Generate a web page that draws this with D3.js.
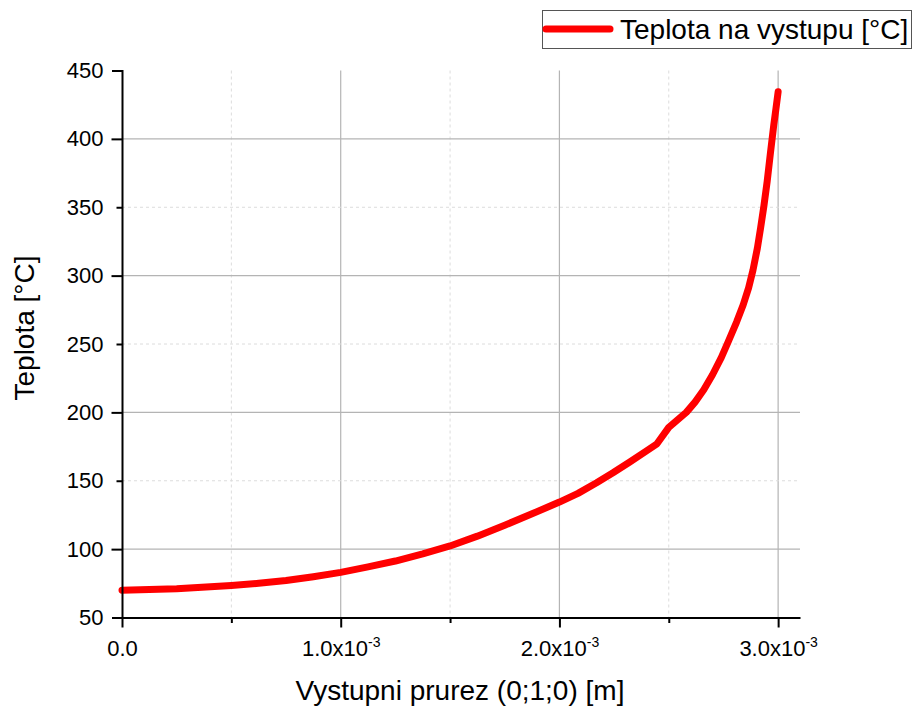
<!DOCTYPE html>
<html>
<head>
<meta charset="utf-8">
<script src="https://cdn.jsdelivr.net/npm/d3@7"></script>
<style>
  body { margin: 0; background: #fff; }
  text { font-family: "Liberation Sans", Arial, sans-serif; fill: #000; }
</style>
</head>
<body>
<script>
var w = 916;
var h = 706;

// data (x in metres, temperature in degC)
var position = [0, 0.25e-3, 0.5e-3, 0.625e-3, 0.75e-3, 0.875e-3, 1.0e-3, 1.125e-3, 1.25e-3,
                1.375e-3, 1.5e-3, 1.625e-3, 1.75e-3, 1.875e-3, 2.0e-3, 2.085e-3, 2.17e-3,
                2.245e-3, 2.32e-3, 2.40e-3, 2.446e-3, 2.5e-3, 2.54e-3, 2.58e-3, 2.62e-3,
                2.66e-3, 2.70e-3, 2.74e-3, 2.77e-3, 2.81e-3, 2.84e-3, 2.865e-3, 2.885e-3,
                2.905e-3, 2.92e-3, 2.935e-3, 2.95e-3, 2.965e-3, 2.98e-3, 2.99e-3, 3.0e-3];
var teplota = [70, 71, 73.4, 75, 77, 79.8, 83, 87, 91.3,
               96.5, 102.3, 109.5, 117.5, 125.8, 134.4, 140.8, 148.5,
               155.8, 163.5, 172, 177, 189, 194.5, 200, 207.5,
               216.5, 227.5, 240, 251, 266, 278.5, 291, 304,
               320, 335, 351, 369, 390, 410, 422, 434.4];

var xMajor = [0, 1e-3, 2e-3, 3e-3];
var xMinor = [0.5e-3, 1.5e-3, 2.5e-3];
var xMantissa = ["0.0", "1.0", "2.0", "3.0"];
var yMajor = [100, 200, 300, 400];
var yMinor = [50, 150, 250, 350, 450];

var seriesName = "Teplota na vystupu [°C]";
var xTitle = "Vystupni prurez (0;1;0) [m]";
var yTitle = "Teplota [°C]";

var svg = d3.select("body").append("svg")
            .attr("width", w)
            .attr("height", h);

var x = d3.scaleLinear().domain([0, 3.1e-3]).range([122, 800]);
var y = d3.scaleLinear().domain([50, 450]).range([617.5, 70.5]);

// grid
var grid = svg.append("g");
grid.selectAll(".vmaj").data(xMajor.slice(1)).enter().append("line")
    .attr("x1", function(d){ return x(d); }).attr("x2", function(d){ return x(d); })
    .attr("y1", y(450)).attr("y2", y(50))
    .attr("stroke", "#b4b4b4").attr("stroke-width", 1.2);
grid.selectAll(".vmin").data(xMinor).enter().append("line")
    .attr("x1", function(d){ return x(d); }).attr("x2", function(d){ return x(d); })
    .attr("y1", y(450)).attr("y2", y(50))
    .attr("stroke", "#dcdcdc").attr("stroke-width", 1).attr("stroke-dasharray", "3,3");
grid.selectAll(".hmaj").data(yMajor).enter().append("line")
    .attr("x1", x(0)).attr("x2", x(3.1e-3))
    .attr("y1", function(d){ return y(d); }).attr("y2", function(d){ return y(d); })
    .attr("stroke", "#b4b4b4").attr("stroke-width", 1.2);
grid.selectAll(".hmin").data(yMinor.slice(1, 4)).enter().append("line")
    .attr("x1", x(0)).attr("x2", x(3.1e-3))
    .attr("y1", function(d){ return y(d); }).attr("y2", function(d){ return y(d); })
    .attr("stroke", "#dcdcdc").attr("stroke-width", 1).attr("stroke-dasharray", "3,3");

// curve
var line = d3.line()
    .x(function(d, i){ return x(position[i]); })
    .y(function(d){ return y(d); });

svg.append("path")
   .datum(teplota)
   .attr("d", line)
   .attr("fill", "none")
   .attr("stroke", "#ff0000")
   .attr("stroke-width", 7)
   .attr("stroke-linejoin", "round")
   .attr("stroke-linecap", "round");

// axes
var xAxis = svg.append("g").attr("transform", "translate(0," + y(50) + ")")
    .call(d3.axisBottom(x).tickValues(xMajor).tickSize(10).tickSizeOuter(0).tickPadding(8)
          .tickFormat(function(d, i){ return xMantissa[i]; }));
svg.append("g").attr("transform", "translate(0," + y(50) + ")")
    .call(d3.axisBottom(x).tickValues(xMinor).tickSize(5.5).tickSizeOuter(0).tickFormat(""))
    .select(".domain").remove();

var yAxis = svg.append("g").attr("transform", "translate(" + x(0) + ",0)")
    .call(d3.axisLeft(y).tickValues(yMajor.concat(yMinor)).tickSizeOuter(0).tickPadding(8)
          .tickSize(10).tickFormat(d3.format("d")));
yAxis.selectAll(".tick line").attr("x2", function(d){ return yMajor.indexOf(d) >= 0 ? -10.5 : -5.5; });
yAxis.selectAll(".tick text").attr("x", -18.5);

svg.selectAll(".domain").attr("stroke", "#000").attr("stroke-width", 2);
svg.selectAll(".tick line").attr("stroke", "#000").attr("stroke-width", 2);
svg.selectAll(".tick text").attr("font-size", "22px").attr("fill", "#000")
   .attr("font-family", "'Liberation Sans', Arial, sans-serif");

// x labels with superscript exponent
xAxis.selectAll(".tick text").each(function(d, i){
    var t = d3.select(this);
    t.text(null).attr("dy", null).attr("y", 38.5);
    t.append("tspan").text(xMantissa[i] + (i > 0 ? "x10" : ""));
    if (i > 0) {
        t.append("tspan").text("-3").attr("font-size", "14px").attr("dy", -9);
    }
});

// titles
svg.append("text")
   .attr("x", 460).attr("y", 700)
   .attr("text-anchor", "middle")
   .attr("font-size", "28px")
   .text(xTitle);

svg.append("text")
   .attr("transform", "translate(34,328) rotate(-90)")
   .attr("text-anchor", "middle")
   .attr("font-size", "28px")
   .text(yTitle);

// legend
var legend = svg.append("g");
legend.append("rect")
   .attr("x", 542.5).attr("y", 10.5).attr("width", 369).attr("height", 38)
   .attr("fill", "#fff").attr("stroke", "#555").attr("stroke-width", 1);
legend.append("line")
   .attr("x1", 546).attr("x2", 610).attr("y1", 29).attr("y2", 29)
   .attr("stroke", "#ff0000").attr("stroke-width", 7).attr("stroke-linecap", "round");
legend.append("text")
   .attr("x", 620).attr("y", 38.5)
   .attr("font-size", "28px")
   .text(seriesName);
</script>
</body>
</html>
